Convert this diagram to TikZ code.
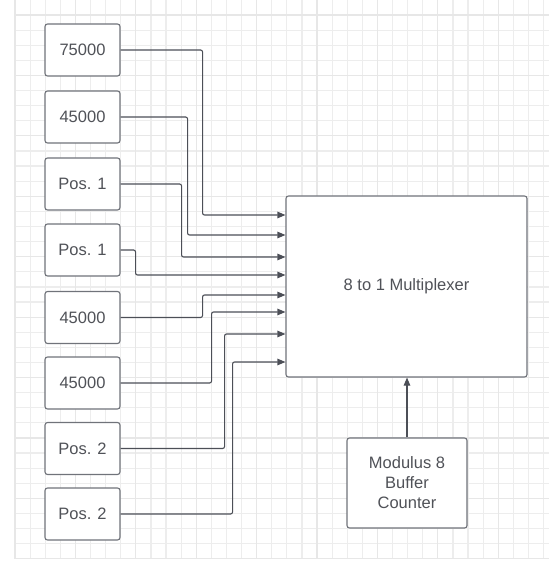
\documentclass[tikz,border=0pt]{standalone}
\usepackage{fontspec}
\setmainfont{Liberation Sans}
\usepackage{tikz}
\usetikzlibrary{positioning, arrows.meta}
\usepackage{xcolor}
\definecolor{gridminor}{RGB}{237, 237, 237}
\definecolor{gridmajor}{RGB}{231, 231, 231}
\definecolor{wiregray}{RGB}{76, 79, 87}
\definecolor{boxgray}{RGB}{112, 115, 122}
\definecolor{textgray}{RGB}{80, 82, 88}

\tikzset{
  blockbox/.style={draw=boxgray, line width=1.1pt, rounded corners=2.5pt,
                   fill=white, text=textgray, align=center,
                   font=\fontsize{16.5}{20}\selectfont},
  inbox/.style={blockbox, minimum width=75pt, minimum height=52pt},
  wire/.style={wiregray, line width=1.1pt, rounded corners=2pt,
               -{Triangle[length=8pt, width=6.5pt]}}
}

\begin{document}
\begin{tikzpicture}[x=1pt, y=-1pt]
        \useasboundingbox (0,0) rectangle (549,561);
        % background grid
        \foreach \k in {0,...,35}
              \draw[gridminor, line width=1.2pt] (15+15.1*\k, 0) -- (15+15.1*\k, 559);
        \foreach \k in {1,...,37}
              \draw[gridminor, line width=1.2pt] (15, 15.1*\k) -- (549, 15.1*\k);
        \foreach \k in {0,4,...,32}
              \draw[gridmajor, line width=1.2pt] (15+15.1*\k, 0) -- (15+15.1*\k, 559);
        \foreach \k in {1,5,...,37}
              \draw[gridmajor, line width=1.2pt] (15, 15.1*\k) -- (549, 15.1*\k);

        % inputs
        \node[inbox] (in1) at (82.5, 50)  {75000};
        \node[inbox] (in2) at (82.5, 117) {45000};
        \node[inbox] (in3) at (82.5, 184) {Pos. 1};
        \node[inbox] (in4) at (82.5, 250) {Pos. 1};
        \node[inbox] (in5) at (82.5, 317.5) {45000};
        \node[inbox] (in6) at (82.5, 383) {45000};
        \node[inbox] (in7) at (82.5, 448.5) {Pos. 2};
        \node[inbox] (in8) at (82.5, 514) {Pos. 2};

        \node[blockbox, minimum width=241pt, minimum height=181pt]
              (mux) at (406.5, 286.5) {8 to 1 Multiplexer};
        \node[blockbox, minimum width=120pt, minimum height=90pt]
              (cnt) at (407, 483) {Modulus 8\\Buffer\\Counter};

        \foreach \i/\dx/\y in {1/82/215, 2/67/235, 3/61/257, 4/15/275,
                               5/82/295, 6/91/312, 7/104/334, 8/112/362}
              \draw[wire] (in\i.east) -- ++(\dx,0) |- (mux.west |- 0,\y);

        \draw[wire] (cnt.north) -- (mux.south -| cnt.north);
      \end{tikzpicture}
\end{document}
